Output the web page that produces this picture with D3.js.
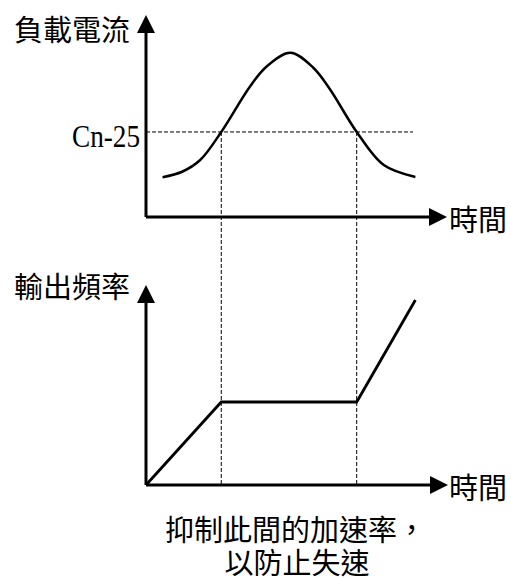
<!DOCTYPE html>
<html><head><meta charset="utf-8">
<script src="https://cdn.jsdelivr.net/npm/d3@7"></script>
<style>html,body{margin:0;padding:0;background:#fff;}</style>
</head><body>
<svg id="c" width="511" height="578"></svg>
<script>
// ---- data ----
const currentT = [0.55, 1.2, 1.8, 2.5, 3.45, 4.0, 4.8, 5.55, 6.1, 7.0, 7.9, 8.95];
const currentV = [19.7, 22.4, 28.2, 42.1, 64.5, 74.4, 81.3, 74.0, 63.5, 42.1, 25.7, 19.8];
const thresholdLabel = "Cn-25";
const thresholdV = 42.1;
const thresholdEndT = 8.87;
const markerT = [2.5, 7.0];
const freqT = [0, 2.5, 7.0, 8.95];
const freqV = [0, 41.5, 41.5, 92.5];
const topYLabel = "負載電流";
const bottomYLabel = "輸出頻率";
const xLabel = "時間";
const noteLines = ["抑制此間的加速率，", "以防止失速"];

// ---- scales ----
const x = d3.scaleLinear().domain([0, 10]).range([146, 447]);
const yTop = d3.scaleLinear().domain([0, 100]).range([217, 15]);
const yBot = d3.scaleLinear().domain([0, 100]).range([485, 285]);

const svg = d3.select("#c");
const cjk = "'Noto Sans CJK TC','Noto Sans CJK SC',sans-serif";

function axes(y, tipX) {
  const x0 = x(0), y0 = y(0), yTip = y(100), xTip = tipX;
  const g = svg.append("g");
  g.append("line").attr("x1", x0).attr("y1", y0).attr("x2", x0).attr("y2", yTip + 10)
    .attr("stroke", "#000").attr("stroke-width", 3);
  g.append("line").attr("x1", x0).attr("y1", y0).attr("x2", xTip - 10).attr("y2", y0)
    .attr("stroke", "#000").attr("stroke-width", 3);
  g.append("path").attr("d", `M${x0},${yTip} L${x0 - 9},${yTip + 18} L${x0 + 9},${yTip + 18} Z`).attr("fill", "#000");
  g.append("path").attr("d", `M${xTip},${y0} L${xTip - 18},${y0 - 9} L${xTip - 18},${y0 + 9} Z`).attr("fill", "#000");
  return g;
}

axes(yTop, 447);
axes(yBot, 448);

// dashed guides
svg.append("line")
  .attr("x1", x(0)).attr("x2", x(thresholdEndT))
  .attr("y1", yTop(thresholdV)).attr("y2", yTop(thresholdV))
  .attr("stroke", "#000").attr("stroke-width", 1).attr("stroke-dasharray", "4,2");
svg.selectAll("line.vg").data(markerT).join("line").attr("class", "vg")
  .attr("x1", d => x(d)).attr("x2", d => x(d))
  .attr("y1", yTop(thresholdV)).attr("y2", yBot(0))
  .attr("stroke", "#000").attr("stroke-width", 1).attr("stroke-dasharray", "4,2");

// load current curve
const cur = currentT.map((t, i) => [t, currentV[i]]);
svg.append("path").datum(cur)
  .attr("d", d3.line().x(d => x(d[0])).y(d => yTop(d[1])).curve(d3.curveCatmullRom.alpha(0.5)))
  .attr("fill", "none").attr("stroke", "#000").attr("stroke-width", 2.5);

// frequency line
const fr = freqT.map((t, i) => [t, freqV[i]]);
svg.append("path").datum(fr)
  .attr("d", d3.line().x(d => x(d[0])).y(d => yBot(d[1])))
  .attr("fill", "none").attr("stroke", "#000").attr("stroke-width", 2.8).attr("stroke-linejoin", "miter");

// texts
svg.append("text").attr("x", 130).attr("y", 28).attr("text-anchor", "end")
  .attr("dominant-baseline", "central").style("font-family", cjk).style("font-size", "29px").text(topYLabel);
svg.append("text").attr("x", 130).attr("y", 285).attr("text-anchor", "end")
  .attr("dominant-baseline", "central").style("font-family", cjk).style("font-size", "29px").text(bottomYLabel);
[[yTop(0)], [yBot(0)]].forEach(([yy]) => {
  svg.append("text").attr("x", 449).attr("y", yy + 1)
    .attr("dominant-baseline", "central").style("font-family", cjk).style("font-size", "29px").text(xLabel);
});
svg.append("text").attr("x", 140).attr("y", 146.5).attr("text-anchor", "end")
  .attr("textLength", 68).attr("lengthAdjust", "spacingAndGlyphs")
  .style("font-family", "'Liberation Serif','Times New Roman',serif").style("font-size", "32px").text(thresholdLabel);
noteLines.forEach((t, i) => {
  svg.append("text").attr("x", i === 0 ? 165 : 297).attr("y", 528 + i * 33)
    .attr("text-anchor", i === 0 ? "start" : "middle")
    .attr("dominant-baseline", "central").style("font-family", cjk).style("font-size", "29px").text(t);
});
</script>
</body></html>
